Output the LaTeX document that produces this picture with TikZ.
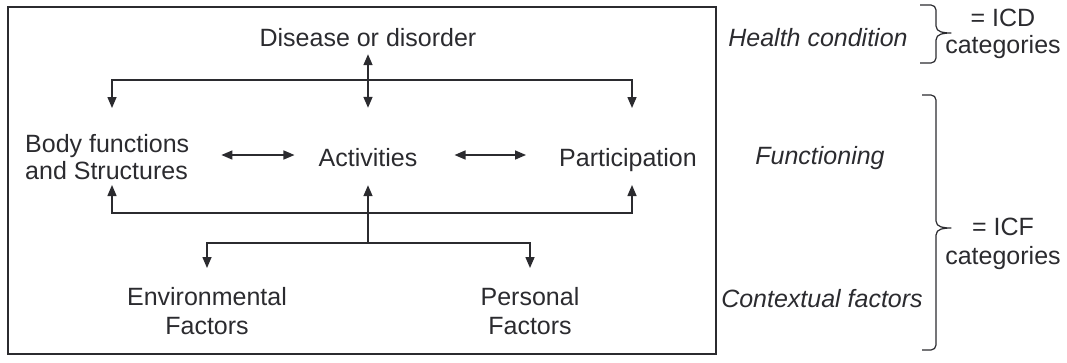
\documentclass[tikz,border=0pt]{standalone}
\usepackage{fontspec}
\setmainfont{Liberation Sans}
\usetikzlibrary{arrows.meta}
\definecolor{ink}{HTML}{2B2B2F}
\begin{document}
\begin{tikzpicture}[x=1pt,y=-1pt,
  txt/.style={inner sep=0pt, text=ink, align=center},
  lbl/.style={txt, text height=18pt, text depth=5pt, font=\fontsize{25}{28}\selectfont},
  two/.style={txt, font=\fontsize{25}{#1}\selectfont},
  side/.style={lbl, font=\fontsize{25}{28}\selectfont\itshape},
  conn/.style={draw=ink, line width=1.5pt},
  tip/.style={-{Triangle[length=11pt,width=9pt]}},
  tips/.style={{Triangle[length=11pt,width=9pt]}-{Triangle[length=11pt,width=9pt]}},
  bracepath/.style={draw=ink, line width=1.2pt, line join=round}
]
\useasboundingbox (0,0) rectangle (1067,362);
\node[draw=ink, line width=1.5pt, minimum width=708pt, minimum height=347pt, anchor=north west, inner sep=0pt] (frame) at (7,6) {};

% nodes
\node[lbl, anchor=base] (dis) at (368,46) {Disease or disorder};
\node[two=27, align=left, anchor=north west] (body) at (25,134) {Body functions\\and Structures};
\node[lbl, anchor=base] (act) at (368,166) {Activities};
\node[lbl, anchor=base] (par) at (628,166) {Participation};
\node[two=29, anchor=north] (env) at (207,287) {Environmental\\Factors};
\node[two=29, anchor=north] (per) at (530,287) {Personal\\Factors};

\node[side, anchor=base] (hc) at (818,46) {Health condition};
\node[side, anchor=base] (fun) at (820,164) {Functioning};
\node[side, anchor=base] (ctx) at (822,307) {Contextual factors};
\node[two=27, anchor=north] (icd) at (1003,9) {= ICD\\categories};
\node[two=29, anchor=north] (icf) at (1003,218) {= ICF\\categories};

% junction and tip coordinates
\coordinate (tj) at (368,80);
\coordinate (bt1) at (112,108);
\coordinate (pt1) at (632,108);
\coordinate (mj) at (368,213);
\coordinate (bt2) at (112,185);
\coordinate (pt2) at (632,185);
\coordinate (lj) at (368,243);

% connectors
\draw[conn, tips, shorten <=3pt, shorten >=40pt] (dis.south) -- (act.north);
\draw[conn, tip] (tj) -| (bt1);
\draw[conn, tip] (tj) -| (pt1);
\draw[conn, tips, shorten <=32pt, shorten >=24pt] ([yshift=4.5pt]act.west -| body.east) -- ([yshift=4.5pt]act.west);
\draw[conn, tips, shorten <=37pt, shorten >=33pt] ([yshift=4.5pt]act.east) -- ([yshift=4.5pt]par.west);
\draw[conn, tip] (mj) -| (bt2);
\draw[conn, tip] (mj) -| (pt2);
\draw[conn, tip, shorten >=14pt] (lj) -- (act.south);
\draw[conn, tip, shorten >=19pt] (lj) -| (env.north);
\draw[conn, tip, shorten >=19pt] (lj) -| (per.north);

% braces
\draw[bracepath] (920,5) -- (931,5) to[out=0,in=90] (936,10) -- (936,26) to[out=-90,in=180] (951,33) to[out=180,in=90] (936,40) -- (936,58) to[out=-90,in=0] (931,63) -- (920,63);
\draw[bracepath] (922,95) -- (931,95) to[out=0,in=90] (936,100) -- (936,221) to[out=-90,in=180] (951,228) to[out=180,in=90] (936,235) -- (936,345) to[out=-90,in=0] (931,350) -- (922,350);
\end{tikzpicture}
\end{document}
